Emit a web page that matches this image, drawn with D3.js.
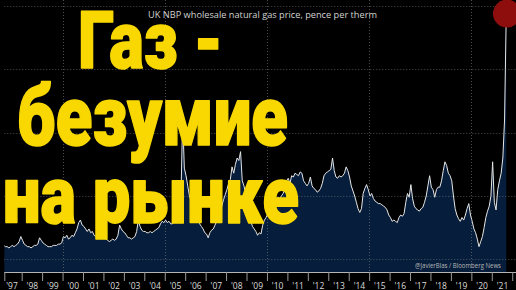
<!DOCTYPE html>
<html><head><meta charset="utf-8">
<script src="https://cdn.jsdelivr.net/npm/d3@7"></script>
<style>
html,body{margin:0;padding:0;background:#000;}
svg{display:block;}
</style></head>
<body>
<svg id="c" width="516" height="290"></svg>
<script>
// ---- data (pence per therm, monthly) ----
const title = "UK NBP wholesale natural gas price, pence per therm";
const credit = "@JavierBlas / Bloomberg News";
const headline = ["Газ -", "безумие", "на рынке"];
const years = [1997,1998,1999,2000,2001,2002,2003,2004,2005,2006,2007,2008,2009,2010,2011,2012,2013,2014,2015,2016,2017,2018,2019,2020,2021];
const p1997 = [11,11,10,10,9,10,11,10,11,12,14,18];
const p1998 = [15,12,11,10,10,9,10,11,11,12,17,15];
const p1999 = [13,12,11,10,10,10,11,11,11,12,12,13];
const p2000 = [18,17,19,16,17,19,18,21,24,29,31,27];
const p2001 = [26,24,22,24,21,22,19,18,19,20,18,17];
const p2002 = [17,16,15,14,15,16,15,16,19,27,24,22];
const p2003 = [21,19,17,17,16,17,18,22,31,26,23,22];
const p2004 = [22,21,21,22,21,22,23,24,25,28,30,29];
const p2005 = [31,29,30,28,28,30,31,33,38,48,112,72];
const p2006 = [66,58,50,46,42,40,38,34,28,26,24,21];
const p2007 = [20,17,21,23,24,27,30,33,38,42,47,51];
const p2008 = [55,60,63,73,68,75,80,78,85,62,58,52];
const p2009 = [47,38,30,26,24,22,19,21,20,27,31,33];
const p2010 = [36,34,37,41,45,47,49,48,50,52,55,62];
const p2011 = [64,60,66,65,68,67,66,69,68,62,60,58];
const p2012 = [60,65,58,56,55,53,54,56,60,66,68,69];
const p2013 = [70,71,80,70,65,64,66,65,66,68,73,70];
const p2014 = [65,58,54,50,45,40,37,40,52,56,59,55];
const p2015 = [50,52,48,46,45,44,44,43,42,41,39,35];
const p2016 = [33,30,31,30,29,33,35,34,36,45,52,49];
const p2017 = [59,48,42,40,39,38,40,41,45,50,58,66];
const p2018 = [57,55,49,55,57,57,62,70,77,74,68,66];
const p2019 = [62,50,40,35,32,30,33,31,35,40,44,35];
const p2020 = [30,24,21,16,10,14,18,25,33,38,42,50];
const p2021 = [77,45,39,55,62,68,80,110,194];
const yTicks = [0,50,100,150,200];
const gridYears = [2000,2005,2010,2015,2020];

const series = [p1997,p1998,p1999,p2000,p2001,p2002,p2003,p2004,p2005,p2006,p2007,p2008,p2009,p2010,p2011,p2012,p2013,p2014,p2015,p2016,p2017,p2018,p2019,p2020,p2021];
const data = [];
series.forEach((arr,i)=>arr.forEach((v,m)=>data.push({t: years[i] + (m+0.5)/12, v})));

const svg = d3.select("#c");
const W = 516, H = 290;
const x = d3.scaleLinear().domain([1997.15, 2021.72]).range([4.3, 506.5]);
const y = d3.scaleLinear().domain([-10, 200]).range([272, 6]);

svg.append("rect").attr("width",W).attr("height",H).attr("fill","#000");

svg.append("defs").append("clipPath").attr("id","clip")
  .append("rect").attr("x",4.3).attr("y",0).attr("width",W-4.3).attr("height",272);

const g = svg.append("g").attr("clip-path","url(#clip)");

g.append("path").datum(data)
  .attr("fill","#061d3b")
  .attr("d", d3.area().x(d=>x(d.t)).y0(y(-10)).y1(d=>y(d.v)));

// grid
const grid = svg.append("g").attr("stroke","#8a8a8a").attr("stroke-opacity",0.55)
  .attr("stroke-dasharray","1,2").attr("stroke-width",1);
grid.selectAll("line.h").data(yTicks).join("line").attr("class","h")
  .attr("x1",4.3).attr("x2",W).attr("y1",d=>Math.round(y(d))+0.5).attr("y2",d=>Math.round(y(d))+0.5);
grid.selectAll("line.v").data(gridYears).join("line").attr("class","v")
  .attr("x1",d=>Math.round(x(d))+0.5).attr("x2",d=>Math.round(x(d))+0.5).attr("y1",0).attr("y2",272);

// red marker at latest value
const last = data[data.length-1];
svg.append("circle").attr("cx",x(last.t)+0.7).attr("cy",y(last.v)).attr("r",14)
  .attr("fill","#8e0d0d");

g.append("path").datum(data)
  .attr("fill","none").attr("stroke","#e6e6e6").attr("stroke-width",1)
  .attr("stroke-linejoin","round")
  .attr("d", d3.line().x(d=>x(d.t)).y(d=>y(d.v)));

// axis
const axisG = svg.append("g").attr("transform","translate(0,272)");
axisG.append("line").attr("x1",4.3).attr("x2",W).attr("y1",0.5).attr("y2",0.5).attr("stroke","#b5b5b5");
const tickYears = d3.range(1998, 2023);
axisG.call(d3.axisBottom(x).tickValues(tickYears).tickSize(9).tickFormat(""))
  .call(a=>a.select(".domain").remove())
  .call(a=>a.selectAll(".tick line").attr("stroke","#9a9a9a"));
axisG.append("line").attr("x1",4.8).attr("x2",4.8).attr("y1",0).attr("y2",9).attr("stroke","#9a9a9a");
const labelAxis = svg.append("g").attr("transform","translate(0,280)")
  .call(d3.axisBottom(x).tickValues(years.map(v=>v+0.5)).tickSize(0)
    .tickFormat(d=>"'" + String(Math.floor(d)).slice(2)));
labelAxis.select(".domain").remove();
labelAxis.selectAll("text").attr("fill","#dcdcdc").attr("font-size","8.5px")
  .attr("font-family","'Open Sans','DejaVu Sans',sans-serif").attr("dy","0.7em");

// title + credit
svg.append("text").attr("x",148).attr("y",18.3).text(title)
  .attr("fill","#d2d2d2").attr("font-size","9px")
  .attr("font-family","'Open Sans','DejaVu Sans',sans-serif")
  .attr("textLength",229).attr("lengthAdjust","spacingAndGlyphs");
svg.append("text").attr("x",415).attr("y",267.5).text(credit)
  .attr("fill","#b8b8b8").attr("font-size","7px")
  .attr("font-family","'Open Sans','DejaVu Sans',sans-serif")
  .attr("textLength",86).attr("lengthAdjust","spacingAndGlyphs");

// big yellow headline
const hl = [
  {x:78, y:68, len:145, size:80},
  {x:17, y:145, len:271, size:84},
  {x:3, y:223, len:296, size:80}
];
svg.append("g").selectAll("text").data(headline).join("text")
  .attr("x",(d,i)=>hl[i].x).attr("y",(d,i)=>hl[i].y)
  .attr("font-size",(d,i)=>hl[i].size+"px")
  .attr("textLength",(d,i)=>hl[i].len).attr("lengthAdjust","spacingAndGlyphs")
  .attr("font-family","Roboto,'Open Sans',sans-serif").attr("font-weight",900)
  .attr("fill","#f8d800").attr("stroke","#f8d800").attr("stroke-width",1.6)
  .attr("stroke-linejoin","round")
  .text(d=>d);
</script>
</body></html>
